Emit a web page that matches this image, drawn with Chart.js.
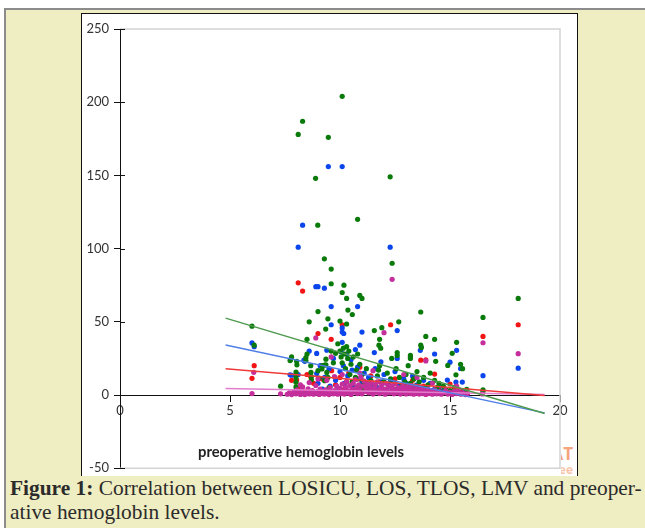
<!DOCTYPE html>
<html>
<head>
<meta charset="utf-8">
<script src="https://cdn.jsdelivr.net/npm/chart.js@4.4.1/dist/chart.umd.min.js"></script>
<style>
  html, body { margin: 0; padding: 0; background: #fff; }
  body { width: 645px; height: 528px; overflow: hidden; position: relative; }
  #frame { position: absolute; left: 4px; top: 8px; width: 641px; height: 520px; background: #efedc2;
           border-left: 2px solid #8c8c8c; border-top: 2px solid #8c8c8c; box-sizing: border-box; }
  #panel { position: absolute; left: 81px; top: 13px; width: 497px; height: 463px; background: #fff;
           border: 1px solid #111; border-bottom: none; box-sizing: border-box; overflow: hidden; }
  #chart { position: absolute; left: 0; top: 0; }
  #xTitle { position: absolute; left: 116px; top: 428px; font: bold 14.8px Lato, sans-serif; color: #222; white-space: nowrap; }
  #mark { position: absolute; left: 479px; top: 428px; width: 14px; height: 36px; overflow: hidden; }
  #mark div { position: absolute; right: 2px; white-space: nowrap; font-family: "Open Sans", sans-serif; font-weight: bold; }
  #caption { position: absolute; left: 10px; top: 476px; font-family: "Liberation Serif", serif; font-size: 21.4px;
             line-height: 24px; color: #2b2b2b; white-space: nowrap; }
</style>
</head>
<body>
<div id="frame"></div>
<div id="panel">
  <div id="mark"><div style="top:0;font-size:17px;color:#f5a47c;">AT</div><div style="top:19px;font-size:12px;color:#f8c3a6;">Free</div></div>
  <canvas id="chart" width="495" height="467"></canvas>
  <div id="xTitle">preoperative hemoglobin levels</div>
</div>
<div id="caption"><b>Figure 1:</b> Correlation between LOSICU, LOS, TLOS, LMV and preoper-<br>ative hemoglobin levels.</div>

<script>
// x = preoperative hemoglobin, y = days / hours
const tlosPoints = [
  [10.1,204],[8.3,187],[8.1,178],[9.47,176],[8.89,148],[12.28,149],[8.99,116],[10.8,120],
  [9.29,93],[9.6,86],[12.37,90],[9.6,76],[10.18,75],[10.1,70],[10.3,66],[10.9,68],[11.0,66],
  [18.1,66],[9.0,57],[8.6,50],[9.45,52],[10.0,50.5],[10.36,58],[10.56,55],[10.3,48.5],
  [13.67,56.7],[12.67,50],[16.5,53],[11.56,44],[11.9,46],[13.9,40],[14.3,38],[15.3,36],
  [8.5,38],[11.8,38],[9.35,45],[6.0,47],[6.1,34],[13.67,34],[13.7,32.5],[15.1,28.5],[7.3,6],
  [7.8,26],[11.77,34],[11.85,32],[12.6,29],[12.6,27],[13.2,27],[13.2,25],[16.5,3.6],[16.5,2.5],
  [7.75,24],[7.73,23.5],[8.03,23],[8.04,20.6],[8.5,28],[8.45,25.6],[8.45,23.5],[8.0,15.7],
  [8.0,12],[8.0,8.7],[8.0,5.5],[8.67,20],[8.68,15.5],[8.7,12.6],[8.7,10.4],[9.0,16.6],
  [9.05,11.6],[9.18,17.8],[9.3,9.8],[9.36,24.5],[9.36,20.6],[9.4,15.4],[9.2,20],[9.3,20.5],
  [9.45,12],[9.5,5],[9.6,30],[9.7,22],[9.8,28.5],[9.9,35],[10.0,30],[10.05,26],[10.1,22],
  [10.15,32],[10.2,28],[10.25,18],[10.3,33],[10.35,25],[10.4,30],[10.45,14],[10.5,21],
  [10.55,9],[10.6,26],[10.65,4],[10.7,12],[10.75,17],[10.8,28],[10.85,6],[10.9,21],[10.95,11],
  [11.0,14],[11.05,3],[11.1,8],[11.2,18],[11.3,5],[11.4,10],[11.5,2],[11.6,7],[11.7,13],
  [11.75,17],[11.8,20],[11.9,4],[12.0,9],[12.1,3],[12.15,15],[12.2,6],[12.3,11],[12.35,25],
  [12.4,2],[12.5,8],[12.55,18],[12.6,4],[12.7,12],[12.8,6],[12.9,3],[12.95,9],[13.0,14],
  [13.05,5],[13.1,20],[13.2,8],[13.3,3],[13.35,11],[13.4,6],[13.5,16],[13.55,4],[13.6,9],
  [13.7,2],[13.8,12],[13.9,5],[14.0,7],[14.1,15],[14.2,3],[14.3,10],[14.35,23],[14.4,5],
  [14.5,8],[14.6,2],[14.7,6],[14.8,4],[14.9,20.2],[15.0,3],[15.27,13.8],[15.48,21],[15.57,18],
  [15.76,3.8],[15.2,5],[15.4,2]
];
const losPoints = [
  [9.47,156],[10.1,156],[8.3,116],[8.1,101],[12.28,101],[8.9,74],[9.0,74],[9.29,73],
  [9.6,60.4],[10.8,60.4],[9.6,48],[10.1,43],[11.0,43],[12.6,44],[6.0,35.6],[6.1,33],
  [10.05,29.6],[13.65,30.5],[14.3,28],[15.3,30.5],[15.0,22.4],[16.5,13.2],[18.1,18.3],
  [10.1,45.8],[10.17,42],[7.73,13.8],[7.8,13.5],[8.0,13.8],[8.1,14],[8.36,23.8],[8.4,23],
  [8.6,30],[8.94,28.4],[8.94,14.7],[9.4,30.6],[9.0,8],[9.1,20],[9.2,4],[9.3,12],[9.5,18],
  [9.55,6],[9.7,25],[9.8,10],[9.9,3],[10.0,16],[10.1,36],[10.15,20],[10.2,8],[10.3,28],
  [10.35,13],[10.4,2],[10.5,24],[10.55,17],[10.6,6],[10.7,31],[10.75,11],[10.8,19],[10.9,34],
  [10.95,4],[11.0,9],[11.1,15],[11.2,3],[11.3,12],[11.4,7],[11.56,29],[11.6,18],[11.7,5],
  [11.86,22.7],[11.9,9],[12.0,14],[12.1,2],[12.2,7],[12.3,10],[12.4,4],[12.5,16],[12.6,25],
  [12.7,6],[12.8,3],[12.9,11],[13.0,8],[13.1,2],[13.2,5],[13.3,13],[13.4,4],[13.5,7],
  [13.7,3],[13.8,10],[13.9,5],[14.0,2],[14.1,8],[14.3,4],[14.5,6],[14.7,3],[14.88,10.2],
  [15.27,8.8],[15.48,18.1],[15.56,8.8],[15.7,3]
];
const losicuPoints = [
  [8.1,76.6],[8.3,71],[10.1,48],[12.3,48],[18.1,48],[16.5,40],[9.0,42],[9.6,38],[6.0,11.4],
  [6.1,20],[13.9,24],[13.2,26],[8.3,2.5],[7.8,10],[8.03,10.2],[8.2,5],[8.5,14],[8.67,12.5],
  [8.8,8],[9.09,2.9],[9.2,11],[9.62,16.6],[9.8,7],[10.0,12],[10.2,4],[10.3,9],[10.4,15],
  [10.6,6],[10.8,11],[10.9,19],[11.0,3],[11.2,8],[11.4,13],[11.6,5],[11.8,9],[12.0,2],
  [12.2,7],[12.5,11],[12.7,4],[12.9,8],[13.1,5],[13.3,10],[13.67,23.8],[13.8,6],[14.0,3],
  [14.3,14.3],[14.5,5],[14.7,2],[15.0,7.5],[15.27,5.9],[15.5,3]
];
const lmvPoints = [
  [12.37,79],[16.5,35.7],[18.1,28.2],[12.0,42.6],[8.9,39],[9.6,26],[6.0,1.0],[7.3,0.8],
  [13.9,23.3],[6.08,15.5],[11.5,16.6],[16.47,0.7],
  [7.6,0.5],[7.7,1.5],[7.8,0.3],[7.9,2.2],[8.0,0.8],[8.05,3.5],[8.1,1.2],[8.2,0.4],[8.25,2.8],
  [8.3,5.5],[8.35,1.0],[8.4,0.3],[8.5,2.0],[8.55,4.2],[8.6,0.7],[8.7,1.8],[8.75,3.0],[8.8,0.5],
  [8.9,6.5],[8.95,1.4],[9.0,2.5],[9.05,0.4],[9.1,4.0],[9.2,1.0],[9.25,2.2],[9.3,0.6],[9.35,3.5],
  [9.4,1.5],[9.5,0.3],[9.55,5.0],[9.6,2.0],[9.7,0.8],[9.75,3.0],[9.8,1.2],[9.85,6.0],[9.9,0.5],
  [9.95,2.5],[10.0,4.5],[10.05,1.0],[10.1,7.5],[10.15,2.8],[10.2,0.6],[10.25,5.5],[10.3,9.0],
  [10.35,3.0],[10.4,1.2],[10.45,6.5],[10.5,0.4],[10.55,4.0],[10.6,8.0],[10.65,2.0],[10.7,10.5],
  [10.75,5.0],[10.8,1.0],[10.85,7.0],[10.9,3.5],[10.95,12.0],[11.0,0.8],[11.05,6.0],[11.1,9.5],
  [11.15,2.5],[11.2,4.5],[11.25,7.5],[11.3,1.5],[11.35,5.5],[11.4,3.0],[11.45,8.5],[11.5,0.6],
  [11.55,4.2],[11.6,6.5],[11.65,2.0],[11.7,9.0],[11.75,3.5],[11.8,1.0],[11.85,5.0],[11.9,7.0],
  [11.95,2.5],[12.0,4.0],[12.05,0.5],[12.1,8.0],[12.15,3.0],[12.2,5.5],[12.25,1.5],[12.3,6.5],
  [12.35,2.2],[12.4,4.5],[12.45,0.8],[12.5,7.5],[12.55,3.2],[12.6,1.5],[12.65,5.0],[12.7,2.5],
  [12.75,0.6],[12.8,4.0],[12.85,6.0],[12.9,1.8],[12.95,3.5],[13.0,0.7],[13.05,5.5],[13.1,2.5],
  [13.15,4.2],[13.2,1.0],[13.25,6.5],[13.3,3.0],[13.35,0.5],[13.4,2.0],[13.45,4.5],[13.5,1.2],
  [13.55,3.0],[13.6,0.6],[13.65,5.0],[13.7,2.2],[13.75,1.0],[13.8,3.5],[13.9,0.4],[13.95,2.0],
  [14.0,4.0],[14.05,1.0],[14.1,2.8],[14.2,0.5],[14.25,1.8],[14.3,3.5],[14.4,0.8],[14.5,2.2],
  [14.6,0.5],[14.7,1.5],[14.8,3.0],[14.9,0.6],[15.0,1.8],[15.1,0.4],[15.2,2.5],[15.3,1.0],
  [15.4,3.5],[15.5,0.5],[15.6,1.5],[15.7,0.3],[15.8,1.0],[8.2,7.0],[8.6,8.5],[9.0,11.0],
  [9.4,10.0],[9.75,12.5],[10.1,14],[10.9,15],[12.9,14],[13.5,12],[14.2,8],[15.3,6]
];

// linear trend lines, end points
const trendHb = [4.8, 19.3];
const tlosTrend = [52.5, -12.6];
const losTrend = [34.2, -12.2];
const losicuTrend = [17.9, -0.4];
const lmvTrend = [4.4, 0.3];

const xTicks = [0, 5, 10, 15, 20];
const yTicks = [-50, 0, 50, 100, 150, 200, 250];

const toXY = pts => pts.map(p => ({ x: p[0], y: p[1] }));
const trend = ys => trendHb.map((x, i) => ({ x: x, y: ys[i] }));

function pointSet(label, pts, color, order) {
  return { type: 'scatter', label: label, data: toXY(pts), backgroundColor: color,
           borderWidth: 0, pointRadius: 2.6, order: order };
}
function trendSet(label, ys, color) {
  return { type: 'line', label: label, data: trend(ys), borderColor: color, borderWidth: 1.5,
           pointRadius: 0, fill: false, order: 0 };
}

// light grey plot frame + inner half of the y tick marks
const plotFrame = {
  id: 'plotFrame',
  beforeDatasetsDraw(chart) {
    const { ctx, chartArea: a } = chart;
    ctx.save();
    ctx.strokeStyle = '#d4d4d4';
    ctx.lineWidth = 1.5;
    ctx.beginPath();
    ctx.moveTo(a.left, a.top);
    ctx.lineTo(a.right, a.top);
    ctx.lineTo(a.right, a.bottom);
    ctx.lineTo(a.left, a.bottom);
    ctx.stroke();
    ctx.strokeStyle = '#111';
    ctx.lineWidth = 1;
    chart.scales.y.ticks.forEach(t => {
      const y = Math.round(chart.scales.y.getPixelForValue(t.value)) + 0.5;
      ctx.beginPath();
      ctx.moveTo(a.left, y);
      ctx.lineTo(a.left + 5, y);
      ctx.stroke();
    });
    ctx.restore();
  }
};

const tickFont = { family: 'Lato', size: 13 };

new Chart(document.getElementById('chart'), {
  data: {
    datasets: [
      trendSet('TLOS trend', tlosTrend, '#4e9a4e'),
      trendSet('LOS trend', losTrend, '#4f7fe6'),
      trendSet('LOSICU trend', losicuTrend, '#f03a3a'),
      trendSet('LMV trend', lmvTrend, '#e27ccc'),
      pointSet('LMV', lmvPoints, '#c42f9c', 1),
      pointSet('TLOS', tlosPoints, '#0a7a0a', 2),
      pointSet('LOS', losPoints, '#0b45ec', 3),
      pointSet('LOSICU', losicuPoints, '#f01414', 4)
    ]
  },
  options: {
    responsive: false,
    animation: false,
    layout: { padding: { left: 0, right: 17, top: 15, bottom: 3 } },
    plugins: { legend: { display: false }, tooltip: { enabled: false } },
    scales: {
      x: {
        type: 'linear',
        position: { y: 0 },
        min: 0, max: 20,
        afterBuildTicks: s => { s.ticks = xTicks.map(v => ({ value: v })); },
        ticks: { font: tickFont, color: '#333', padding: 2 },
        grid: { drawOnChartArea: false, color: '#111', tickLength: 6 },
        border: { color: '#111', width: 1 }
      },
      y: {
        type: 'linear',
        min: -50, max: 250,
        afterBuildTicks: s => { s.ticks = yTicks.map(v => ({ value: v })); },
        afterFit: s => { s.width = 38; },
        ticks: { font: tickFont, color: '#333', padding: 5 },
        grid: { drawOnChartArea: false, color: '#111', tickLength: 6 },
        border: { color: '#111', width: 1 }
      }
    }
  },
  plugins: [plotFrame]
});
</script>
</body>
</html>
